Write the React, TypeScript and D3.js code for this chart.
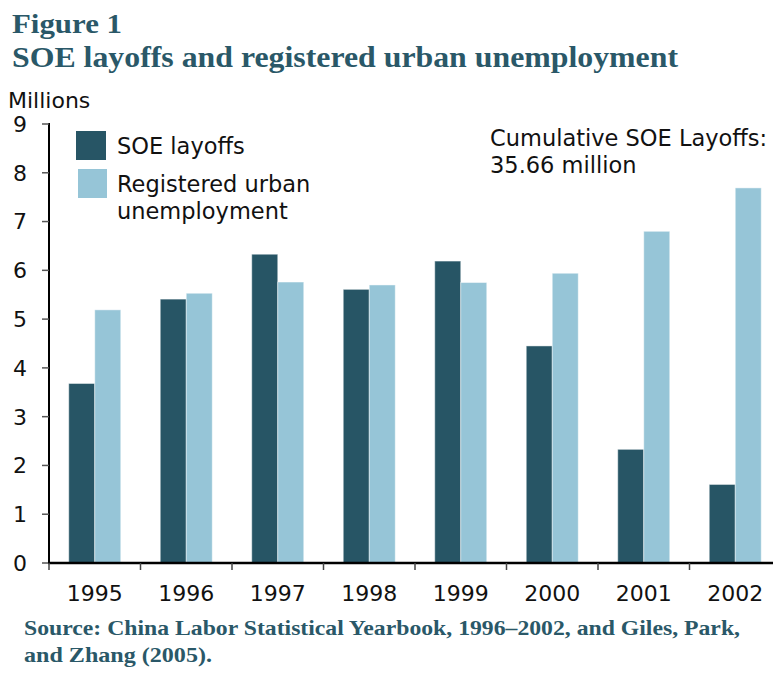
import React from "react";
import * as d3 from "d3";

const years = ["1995", "1996", "1997", "1998", "1999", "2000", "2001", "2002"];
const soeLayoffs = [3.68, 5.41, 6.33, 5.61, 6.19, 4.45, 2.33, 1.61];
const registeredUnemployment = [5.19, 5.53, 5.76, 5.70, 5.75, 5.94, 6.80, 7.69];
const yTicks = [0, 1, 2, 3, 4, 5, 6, 7, 8, 9];
const seriesKeys = ["soe", "reg"];
const seriesColors = ["#275565", "#96c5d7"];

const W = 773;
const H = 687;
const TEAL = "#2a5868";
const SANS = "'DejaVu Sans', Verdana, sans-serif";
const SERIF = "'Liberation Serif', 'Times New Roman', serif";

export default function App() {
  const x0 = 49;
  const bandW = 91.5;
  const x = d3.scaleBand<string>().domain(years).range([x0, x0 + bandW * years.length]).paddingInner(0).paddingOuter(0);
  const groupW = 52;
  const xs = d3
    .scaleBand<string>()
    .domain(seriesKeys)
    .range([(x.bandwidth() - groupW) / 2, (x.bandwidth() + groupW) / 2]);
  const y = d3.scaleLinear().domain([0, 9]).range([563, 124]);

  const data = years.map((yr, i) => ({ yr, vals: [soeLayoffs[i], registeredUnemployment[i]] }));
  const boundaries = [...years.map((yr) => x(yr) as number), (x(years[years.length - 1]) as number) + x.bandwidth()];

  return (
    <div style={{ position: "absolute", left: 0, top: 0 }}>
      <svg width={W} height={H} style={{ display: "block", background: "#fff" }}>
        {/* Titles */}
        <text x={12} y={33} fill={TEAL} fontFamily={SERIF} fontWeight="bold" fontSize={28} textLength={110} lengthAdjust="spacingAndGlyphs">
          Figure 1
        </text>
        <text x={12} y={67} fill={TEAL} fontFamily={SERIF} fontWeight="bold" fontSize={29} textLength={666} lengthAdjust="spacingAndGlyphs">
          SOE layoffs and registered urban unemployment
        </text>
        <text x={8} y={108} fill="#111" fontFamily={SANS} fontSize={22}>
          Millions
        </text>

        {/* Bars */}
        {data.map((d) => (
          <g key={d.yr} transform={`translate(${x(d.yr)},0)`}>
            {d.vals.map((v, j) => (
              <rect
                key={seriesKeys[j]}
                x={xs(seriesKeys[j])}
                y={y(v)}
                width={xs.bandwidth()}
                height={y(0) - y(v)}
                fill={seriesColors[j]}
                stroke="#ffffff"
                strokeOpacity={0.45}
                strokeWidth={1}
              />
            ))}
          </g>
        ))}

        {/* Y axis */}
        <line x1={x0} x2={x0} y1={y(9) - 1} y2={y(0)} stroke="#000" strokeWidth={2} />
        {yTicks.map((t) => (
          <g key={t}>
            <line x1={x0 - 7} x2={x0} y1={y(t)} y2={y(t)} stroke="#555" strokeWidth={1.5} />
            <text x={27} y={y(t)} dy="0.36em" textAnchor="end" fill="#111" fontFamily={SANS} fontSize={22}>
              {t}
            </text>
          </g>
        ))}

        {/* X axis */}
        <line x1={x0 - 1} x2={W} y1={y(0)} y2={y(0)} stroke="#000" strokeWidth={2.5} />
        {boundaries.map((bx, i) => (
          <line key={i} x1={bx} x2={bx} y1={y(0)} y2={y(0) + 7} stroke="#444" strokeWidth={1.5} />
        ))}
        {years.map((yr) => (
          <text key={yr} x={(x(yr) as number) + x.bandwidth() / 2} y={601} textAnchor="middle" fill="#111" fontFamily={SANS} fontSize={22}>
            {yr}
          </text>
        ))}

        {/* Legend */}
        <rect x={76} y={131} width={30} height={29} fill={seriesColors[0]} />
        <rect x={78} y={169} width={29} height={29} fill={seriesColors[1]} />
        <text x={117} y={154} fill="#111" fontFamily={SANS} fontSize={22.5}>SOE layoffs</text>
        <text x={117} y={192} fill="#111" fontFamily={SANS} fontSize={22.5}>Registered urban</text>
        <text x={117} y={219} fill="#111" fontFamily={SANS} fontSize={22.5}>unemployment</text>

        {/* Annotation */}
        <text x={490} y={146} fill="#111" fontFamily={SANS} fontSize={22.5}>Cumulative SOE Layoffs:</text>
        <text x={490} y={173} fill="#111" fontFamily={SANS} fontSize={22.5}>35.66 million</text>

        {/* Source */}
        <text x={24} y={635} fill={TEAL} fontFamily={SERIF} fontWeight="bold" fontSize={21} textLength={716} lengthAdjust="spacingAndGlyphs">
          Source: China Labor Statistical Yearbook, 1996–2002, and Giles, Park,
        </text>
        <text x={24} y={662} fill={TEAL} fontFamily={SERIF} fontWeight="bold" fontSize={21} textLength={188} lengthAdjust="spacingAndGlyphs">
          and Zhang (2005).
        </text>
      </svg>
    </div>
  );
}
